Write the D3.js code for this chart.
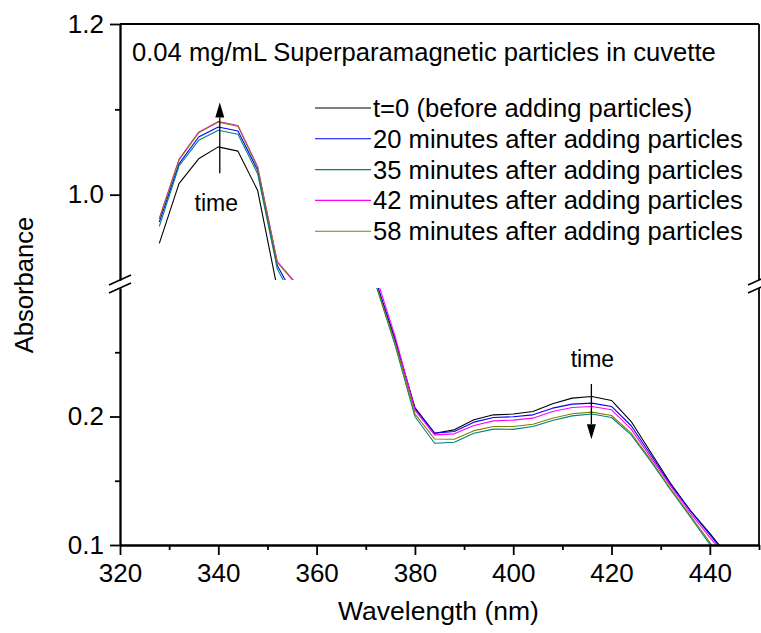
<!DOCTYPE html>
<html>
<head>
<meta charset="utf-8">
<script src="https://cdn.jsdelivr.net/npm/d3@7"></script>
<style>
  html, body { margin: 0; padding: 0; background: #fff; }
  svg text { font-family: Arial, "Liberation Sans", sans-serif; fill: #000; }
</style>
</head>
<body>
<svg id="chart" width="761" height="633"></svg>
<script>
// ---------------- DATA ----------------
const wavelengths = [328, 332, 336, 340, 344, 348, 352, 356, 360, 364, 368, 372, 376, 380, 384,
                     388, 392, 396, 400, 404, 408, 412, 416, 420, 424, 428, 432, 436, 440, 444];

const seriesNames = [
  "t=0 (before adding particles)",
  "20 minutes after adding particles",
  "35 minutes after adding particles",
  "42 minutes after adding particles",
  "58 minutes after adding particles"
];
const seriesColors = ["#000000", "#0000ff", "#008080", "#ff00ff", "#808000"];

const absT0 = [0.943, 1.013, 1.042, 1.056, 1.051, 1.005, 0.890, 0.840, 0.72, 0.56, 0.42, 0.305, 0.259, 0.207, 0.187,
               0.1896, 0.1974, 0.2013, 0.2019, 0.2039, 0.2099, 0.2143, 0.2156, 0.2125, 0.1961, 0.172, 0.148, 0.127, 0.109, 0.090];
const abs20 = [0.968, 1.036, 1.0676, 1.0793, 1.0747, 1.0285, 0.917, 0.875, 0.74, 0.57, 0.43, 0.306, 0.260, 0.206, 0.187,
               0.1883, 0.1956, 0.1992, 0.1998, 0.2013, 0.2065, 0.2096, 0.2104, 0.2078, 0.1928, 0.170, 0.147, 0.127, 0.108, 0.089];
const abs35 = [0.9628, 1.0336, 1.0637, 1.0755, 1.0708, 1.0246, 0.913, 0.870, 0.73, 0.56, 0.42, 0.303, 0.255, 0.200, 0.1792,
               0.180, 0.187, 0.1902, 0.190, 0.1922, 0.1969, 0.2005, 0.2019, 0.1992, 0.1857, 0.165, 0.143, 0.122, 0.1005, 0.080];
const abs42 = [0.9722, 1.0414, 1.0733, 1.0857, 1.081, 1.0328, 0.9215, 0.895, 0.75, 0.58, 0.44, 0.310, 0.262, 0.205, 0.1857,
               0.1865, 0.193, 0.1966, 0.1972, 0.1987, 0.2039, 0.207, 0.2078, 0.2052, 0.1902, 0.168, 0.146, 0.125, 0.106, 0.087];
const abs58 = [0.9715, 1.0405, 1.0725, 1.085, 1.0802, 1.032, 0.9205, 0.894, 0.75, 0.58, 0.43, 0.304, 0.257, 0.202, 0.1825,
               0.1823, 0.189, 0.1922, 0.1922, 0.194, 0.1987, 0.2021, 0.2034, 0.2008, 0.187, 0.166, 0.144, 0.123, 0.102, 0.082];

const seriesValues = [absT0, abs20, abs35, abs42, abs58];

const xTickValues = [320, 340, 360, 380, 400, 420, 440];
const xMinorTicks = [330, 350, 370, 390, 410, 430, 450];
const yUpperTicks = [1.0, 1.2];
const yUpperMinor = [1.1];
const yLowerTicks = [0.1, 0.2];
const yLowerMinor = [0.15, 0.25];

const titleText = "0.04 mg/mL Superparamagnetic particles in cuvette";
const xLabel = "Wavelength (nm)";
const yLabel = "Absorbance";

// annotations (data coordinates)
const arrowUp = { x: 340.3, from: 1.025, to: 1.108, label: "time", labelY: 0.981, labelX: 339.6 };
const arrowDown = { x: 415.9, from: 0.2253, to: 0.1823, label: "time", labelY: 0.2383, labelX: 416.1 };

// ---------------- LAYOUT ----------------
const svg = d3.select("#chart");
const L = 120, R = 759, T = 24, B = 545;
const upperBottom = 280, lowerTop = 288;
const FS = 25.6;      // title & legend
const FS_TICK = 26;
const FS_AXIS = 26.5;
const FS_TIME = 23;

const x = d3.scaleLinear().domain([320, 450]).range([L, R]);
const yU = d3.scaleLinear().domain([0.9, 1.2]).range([upperBottom, T]);
const yL = d3.scaleLinear().domain([0.1, 0.3]).range([B, lowerTop]);

const defs = svg.append("defs");
defs.append("clipPath").attr("id", "clipU").append("rect")
  .attr("x", L).attr("y", T).attr("width", R - L).attr("height", upperBottom - T);
defs.append("clipPath").attr("id", "clipL").append("rect")
  .attr("x", L).attr("y", lowerTop).attr("width", R - L).attr("height", B - lowerTop);

const data = seriesValues.map((vals, i) => ({
  name: seriesNames[i], color: seriesColors[i],
  pts: wavelengths.map((w, j) => [w, vals[j]])
}));

function drawPanel(yScale, clipId) {
  const g = svg.append("g").attr("clip-path", `url(#${clipId})`);
  const line = d3.line().x(d => x(d[0])).y(d => yScale(d[1]));
  g.selectAll("path").data(data).join("path")
    .attr("d", d => line(d.pts))
    .attr("fill", "none")
    .attr("stroke", d => d.color)
    .attr("stroke-width", 1.1)
    .attr("stroke-linejoin", "round");
}
drawPanel(yU, "clipU");
drawPanel(yL, "clipL");

// ---------------- AXES ----------------
const axisW = 1.8;
function styleAxis(g) {
  g.selectAll("path.domain").attr("stroke", "#000").attr("stroke-width", axisW);
  g.selectAll(".tick line").attr("stroke", "#000").attr("stroke-width", axisW);
  g.selectAll(".tick text").attr("font-size", FS_TICK).attr("font-family", "Arial, 'Liberation Sans', sans-serif").attr("fill", "#000");
}

// bottom
svg.append("g").attr("transform", `translate(0,${B})`)
  .call(d3.axisBottom(x).tickValues(xMinorTicks).tickSize(5).tickFormat("").tickSizeOuter(0))
  .call(styleAxis);
svg.append("g").attr("transform", `translate(0,${B})`)
  .call(d3.axisBottom(x).tickValues(xTickValues).tickSize(10).tickPadding(9).tickFormat(d3.format("d")).tickSizeOuter(0))
  .call(styleAxis);

// left upper
svg.append("g").attr("transform", `translate(${L},0)`)
  .call(d3.axisLeft(yU).tickValues(yUpperMinor).tickSize(5).tickFormat("").tickSizeOuter(0))
  .call(styleAxis);
svg.append("g").attr("transform", `translate(${L},0)`)
  .call(d3.axisLeft(yU).tickValues(yUpperTicks).tickSize(10).tickPadding(6).tickFormat(d3.format(".1f")).tickSizeOuter(0))
  .call(styleAxis);
// left lower
svg.append("g").attr("transform", `translate(${L},0)`)
  .call(d3.axisLeft(yL).tickValues(yLowerMinor).tickSize(5).tickFormat("").tickSizeOuter(0))
  .call(styleAxis);
svg.append("g").attr("transform", `translate(${L},0)`)
  .call(d3.axisLeft(yL).tickValues(yLowerTicks).tickSize(10).tickPadding(6).tickFormat(d3.format(".1f")).tickSizeOuter(0))
  .call(styleAxis);

// top & right frame
svg.append("line").attr("x1", L).attr("x2", R).attr("y1", T).attr("y2", T)
  .attr("stroke", "#000").attr("stroke-width", axisW);
svg.append("line").attr("x1", R).attr("x2", R).attr("y1", T).attr("y2", upperBottom)
  .attr("stroke", "#000").attr("stroke-width", axisW);
svg.append("line").attr("x1", R).attr("x2", R).attr("y1", lowerTop).attr("y2", B)
  .attr("stroke", "#000").attr("stroke-width", axisW);

// break marks
[L, R].forEach(bx => {
  [upperBottom, lowerTop].forEach(by => {
    svg.append("line")
      .attr("x1", bx - 11).attr("y1", by + 5)
      .attr("x2", bx + 11).attr("y2", by - 5)
      .attr("stroke", "#000").attr("stroke-width", 1.6);
  });
});

// axis titles
svg.append("text").attr("x", 438.5).attr("y", 620)
  .attr("text-anchor", "middle").attr("font-size", FS_AXIS).text(xLabel);
svg.append("text")
  .attr("transform", `translate(33,${(T + B) / 2 + 0.5}) rotate(-90)`)
  .attr("text-anchor", "middle").attr("font-size", FS).text(yLabel);

// title
svg.append("text").attr("x", 132).attr("y", 61).attr("font-size", FS).text(titleText);

// legend
const legendX = 315, legendY0 = 108, legendDY = 30.8;
const lg = svg.append("g");
data.forEach((d, i) => {
  const yy = legendY0 + i * legendDY;
  lg.append("line").attr("x1", legendX).attr("x2", legendX + 56).attr("y1", yy).attr("y2", yy)
    .attr("stroke", d.color).attr("stroke-width", 1.1);
  lg.append("text").attr("x", legendX + 58).attr("y", yy + 9).attr("font-size", FS).text(d.name);
});

// arrows
function drawArrow(a, yScale, up) {
  const ax = x(a.x), y0 = yScale(a.from), y1 = yScale(a.to);
  const headLen = 15, headW = 4.5;
  const base = up ? y1 + headLen : y1 - headLen;
  svg.append("line").attr("x1", ax).attr("x2", ax).attr("y1", y0).attr("y2", base)
    .attr("stroke", "#000").attr("stroke-width", 1.3);
  svg.append("path")
    .attr("d", `M${ax},${y1} L${ax - headW},${base} L${ax + headW},${base} Z`)
    .attr("fill", "#000");
  svg.append("text").attr("x", x(a.labelX)).attr("y", yScale(a.labelY))
    .attr("text-anchor", "middle").attr("font-size", FS_TIME).text(a.label);
}
drawArrow(arrowUp, yU, true);
drawArrow(arrowDown, yL, false);
</script>
</body>
</html>
